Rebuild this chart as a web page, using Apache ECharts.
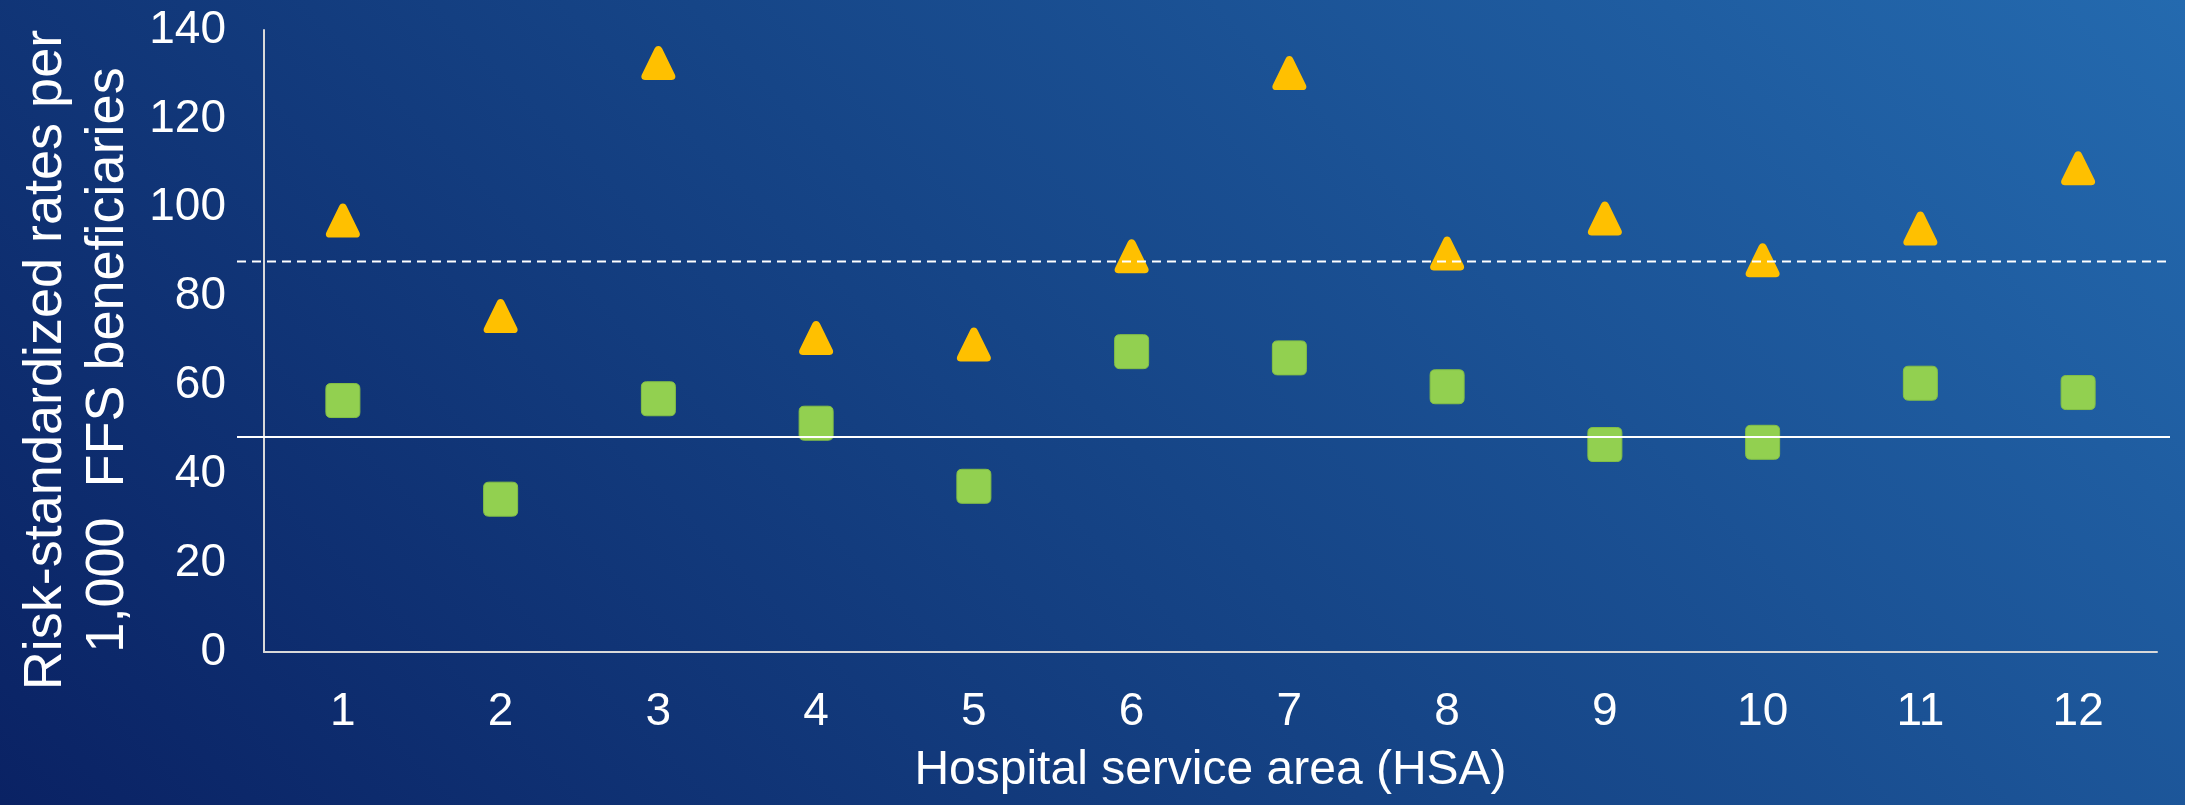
<!DOCTYPE html>
<html>
<head>
<meta charset="utf-8">
<script src="https://cdn.jsdelivr.net/npm/echarts@6/dist/echarts.min.js"></script>
<style>
html,body{margin:0;padding:0;width:2185px;height:805px;overflow:hidden;}
#chart{width:2185px;height:805px;}
</style>
</head>
<body>
<div id="chart"></div>
<script>
// ---- data ----
const categories = ['1','2','3','4','5','6','7','8','9','10','11','12'];
const triangleValues = [97.1, 75.6, 132.6, 70.7, 69.2, 89.1, 130.3, 89.7, 97.6, 88.2, 95.3, 108.9];
const squareValues = [56.6, 34.4, 57.0, 51.5, 37.3, 67.6, 66.2, 59.7, 46.7, 47.2, 60.5, 58.4];
const dashedRefValue = [87.9];
const solidRefValue = [48.4];
const yTicks = [0, 20, 40, 60, 80, 100, 120, 140];
const yTitle = 'Risk-standardized rates per\n1,000  FFS beneficiaries';
const xTitle = 'Hospital service area (HSA)';

const FONT = '"Liberation Sans", Arial, sans-serif';
const triPath = 'path://M50,0 C56,0 59,4 61,8 L98,84 C102,92 98,100 89,100 L11,100 C2,100 -2,92 2,84 L39,8 C41,4 44,0 50,0 Z';
const sqPath = 'path://M15,0 L85,0 Q100,0 100,15 L100,85 Q100,100 85,100 L15,100 Q0,100 0,85 L0,15 Q0,0 15,0 Z';

const chart = echarts.init(document.getElementById('chart'));
chart.setOption({
  backgroundColor: {
    type: 'linear', global: true,
    x: 0, y: 805, x2: 1495, y2: -690,
    colorStops: [
      {offset: 0, color: '#0a2264'},
      {offset: 0.5, color: '#164587'},
      {offset: 1, color: '#246aaf'}
    ]
  },
  animation: false,
  grid: [
    {left: 264, right: 28, top: 30, bottom: 153},
    {left: 237, right: 15, top: 30, bottom: 153}
  ],
  xAxis: [
    {
      type: 'category', data: categories, gridIndex: 0, boundaryGap: true,
      axisLine: {show: true, lineStyle: {color: '#d9d9d9', width: 2}},
      axisTick: {show: false},
      axisLabel: {color: '#ffffff', fontSize: 46, fontFamily: FONT, margin: 37},
      name: xTitle, nameLocation: 'middle', nameGap: 95,
      nameTextStyle: {color: '#ffffff', fontSize: 48, fontFamily: FONT}
    },
    {type: 'value', gridIndex: 1, min: 0, max: 1, show: false}
  ],
  yAxis: [
    {
      type: 'value', gridIndex: 0, min: yTicks[0], max: yTicks[yTicks.length-1], interval: 20,
      axisLine: {show: true, lineStyle: {color: '#d9d9d9', width: 2}},
      axisTick: {show: false},
      splitLine: {show: false},
      axisLabel: {color: '#ffffff', fontSize: 46, fontFamily: FONT, margin: 38}
    },
    {type: 'value', gridIndex: 1, min: yTicks[0], max: yTicks[yTicks.length-1], show: false}
  ],
  graphic: [{
    type: 'text', x: 77, y: 360, rotation: Math.PI / 2,
    style: {
      text: yTitle, fill: '#ffffff', fontSize: 54, fontFamily: FONT,
      lineHeight: 62, align: 'center', verticalAlign: 'middle'
    }
  }],
  series: [
    {
      type: 'scatter', xAxisIndex: 0, yAxisIndex: 0, data: triangleValues,
      symbol: triPath, symbolSize: [34, 34], z: 2,
      itemStyle: {color: '#FFC000', opacity: 1}
    },
    {
      type: 'scatter', xAxisIndex: 0, yAxisIndex: 0, data: squareValues,
      symbol: sqPath, symbolSize: [34, 34], z: 2,
      itemStyle: {color: '#92D050', borderColor: '#84c046', borderWidth: 1, opacity: 1}
    },
    {
      type: 'line', xAxisIndex: 1, yAxisIndex: 1, z: 5, symbol: 'none',
      data: [[0, dashedRefValue[0]], [1, dashedRefValue[0]]],
      lineStyle: {color: '#ffffff', width: 2, type: [9, 6]}
    },
    {
      type: 'line', xAxisIndex: 1, yAxisIndex: 1, z: 5, symbol: 'none',
      data: [[0, solidRefValue[0]], [1, solidRefValue[0]]],
      lineStyle: {color: '#ffffff', width: 2, type: 'solid'}
    }
  ]
});
</script>
</body>
</html>
